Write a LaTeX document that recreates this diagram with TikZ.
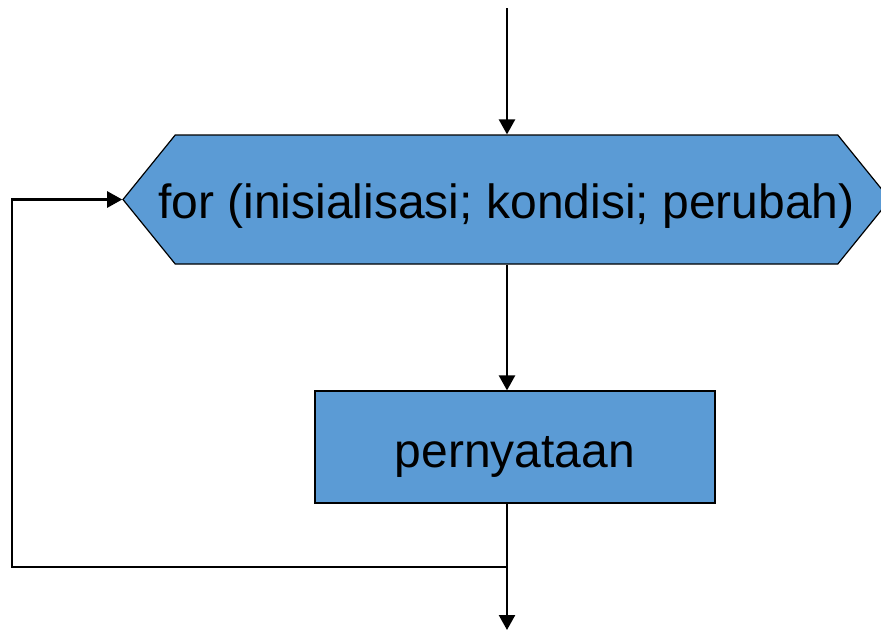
\documentclass[tikz,border=0pt]{standalone}
\usepackage{fontspec}
\setmainfont{Liberation Sans}
\usetikzlibrary{shapes.symbols,arrows.meta}
\definecolor{boxblue}{HTML}{5B9BD5}
\tikzset{
  flowbox/.style={draw=black, line width=1.2pt, fill=boxblue, font=\fontsize{48}{52}\selectfont,
    text depth=10pt},
  flowline/.style={line width=2.4pt},
  flowarrow/.style={flowline, -{Triangle[length=15pt,width=16pt]}},
}

\begin{document}
\begin{tikzpicture}[x=1pt, y=-1pt]
  \useasboundingbox (0,0) rectangle (881,630);

  % Blocks
  \node[flowbox, shape=signal, signal to=west and east, signal pointer angle=102,
        minimum width=767pt, minimum height=129pt, inner xsep=-20pt, inner ysep=0pt,
        text height=47pt] (forloop) at (506.5,199.5)
        {for (inisialisasi; kondisi; perubah)};
  \node[flowbox, minimum width=400pt, minimum height=112pt, text height=50pt] (stmt) at (515,447)
        {pernyataan};

  \coordinate (start) at (507,8);
  \coordinate (join) at (507,567);
  \coordinate (back) at (12,567);
  \coordinate (finish) at (507,630);

  % Connectors
  \draw[flowarrow] (start) -- (start |- forloop.north);
  \draw[flowarrow] (start |- forloop.south) -- (start |- stmt.north);
  \draw[flowarrow] (start |- stmt.south) -- (finish);
  \draw[flowarrow] (join) -- (back) |- (forloop.west);
\end{tikzpicture}
\end{document}
